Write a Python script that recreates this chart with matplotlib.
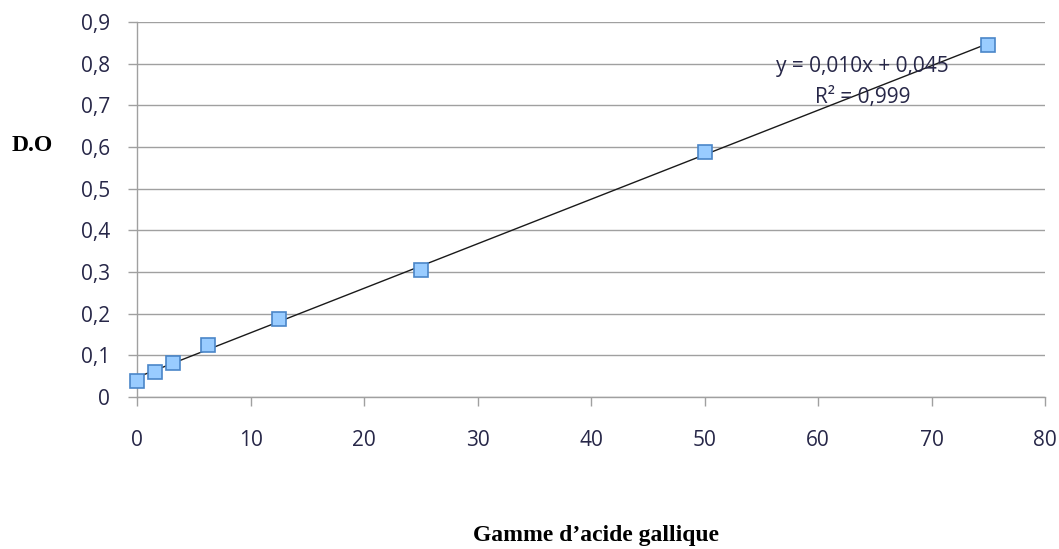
import matplotlib.pyplot as plt
import numpy as np
from matplotlib.ticker import FuncFormatter

# gallic acid concentrations and optical density readings
concentration = [0, 1.5625, 3.125, 6.25, 12.5, 25, 50, 75]
absorbance    = [0.038, 0.060, 0.082, 0.125, 0.187, 0.305, 0.588, 0.845]

x_ticks = [0, 10, 20, 30, 40, 50, 60, 70, 80]
y_ticks = [0, 0.1, 0.2, 0.3, 0.4, 0.5, 0.6, 0.7, 0.8, 0.9]

text_col = '#272748'
grid_col = '#a0a0a0'

fig = plt.figure(figsize=(10.59, 5.49), dpi=100)
ax = fig.add_axes([0.1294, 0.2769, 0.8574, 0.6831])

# linear trend line
slope, intercept = np.polyfit(concentration, absorbance, 1)
xs = np.array([min(concentration), max(concentration)])
ax.plot(xs, slope * xs + intercept, color='#1a1a1a', lw=1.0, zorder=3)

ax.plot(concentration, absorbance, linestyle='none', marker='s', markersize=10,
        markerfacecolor='#99ccff', markeredgecolor='#4a86c8', markeredgewidth=1.2,
        zorder=4, clip_on=False)

ax.set_xlim(0, 80)
ax.set_ylim(0, 0.9)
ax.set_xticks(x_ticks)
ax.set_yticks(y_ticks)

comma = FuncFormatter(lambda v, p: ('%g' % round(v, 2)).replace('.', ','))
ax.xaxis.set_major_formatter(comma)
ax.yaxis.set_major_formatter(comma)

ax.yaxis.grid(True, color=grid_col, lw=1.0)
ax.set_axisbelow(True)
for s in ['top', 'right']:
    ax.spines[s].set_visible(False)
for s in ['left', 'bottom']:
    ax.spines[s].set_color(grid_col)
    ax.spines[s].set_linewidth(1.0)

ax.tick_params(axis='both', colors=grid_col, length=6.5, width=1.0, labelsize=15,
               labelcolor=text_col)
ax.tick_params(axis='x', pad=17)
ax.tick_params(axis='y', pad=13)
for lab in ax.get_xticklabels() + ax.get_yticklabels():
    lab.set_family('Open Sans')

ax.text(63.9, 0.780, 'y = 0,010x + 0,045', fontsize=15, color=text_col,
        family='Open Sans', ha='center', va='baseline', zorder=5)
ax.text(63.9, 0.706, 'R² = 0,999', fontsize=15, color=text_col,
        family='Open Sans', ha='center', va='baseline', zorder=5)

fig.text(32.5 / 1059, 1 - 151 / 549, 'D.O', fontsize=17, fontweight='bold',
         family='Liberation Serif', ha='center', va='baseline')
fig.text(596 / 1059, 1 - 541 / 549, 'Gamme d\u2019acide gallique', fontsize=17,
         fontweight='bold', family='Liberation Serif', ha='center', va='baseline')

plt.savefig('out.png', dpi=100)
